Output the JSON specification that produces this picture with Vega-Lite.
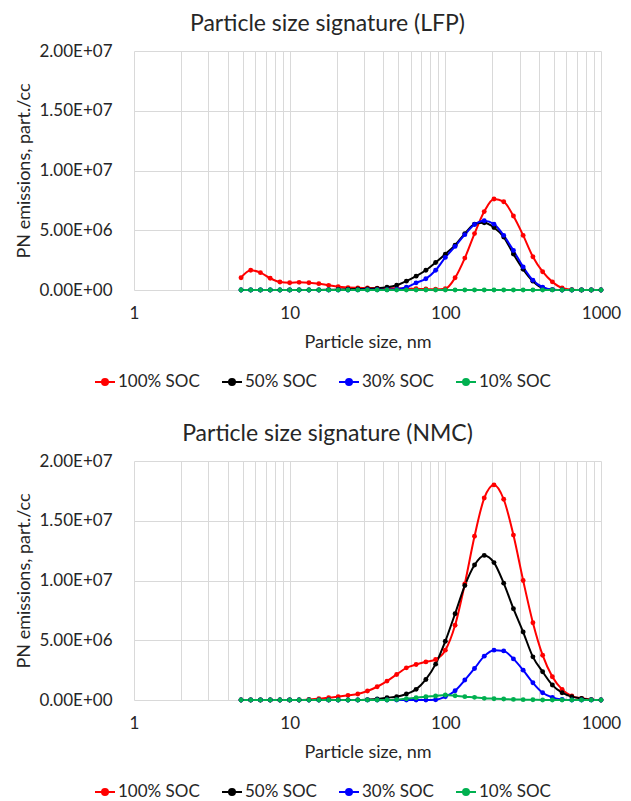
{
  "$schema": "https://vega.github.io/schema/vega-lite/v6.json",
  "background": "white",
  "padding": {"left": 15, "top": 13, "right": 5, "bottom": 0},
  "spacing": 33,
  "config": {
    "font": "Lato",
    "view": {"stroke": null},
    "axis": {
      "gridColor": "#d9d9d9",
      "gridWidth": 1,
      "domain": false,
      "ticks": false,
      "labelColor": "#262626",
      "titleColor": "#262626",
      "labelFontSize": 17,
      "titleFontSize": 18,
      "titleFontWeight": "normal"
    },
    "title": {"fontSize": 23, "fontWeight": "normal", "color": "#262626", "offset": 6, "dx": -40},
    "legend": {
      "orient": "none",
      "direction": "horizontal",
      "legendX": -40,
      "legendY": 320,
      "padding": 0,
      "symbolType": "M-1,0H1M-0.3,0A0.3,0.3,0,1,1,0.3,0A0.3,0.3,0,1,1,-0.3,0Z",
      "symbolSize": 400,
      "symbolStrokeWidth": 2,
      "symbolOpacity": 1,
      "labelFontSize": 17,
      "labelColor": "#262626",
      "labelOffset": 2,
      "columnPadding": 18
    }
  },
  "datasets": {
    "lfp": [
      {"d": 4.87, "100% SOC": 1030000, "50% SOC": 0, "30% SOC": 0, "10% SOC": 0},
      {"d": 5.62, "100% SOC": 1650000, "50% SOC": 0, "30% SOC": 0, "10% SOC": 0},
      {"d": 6.49, "100% SOC": 1450000, "50% SOC": 0, "30% SOC": 0, "10% SOC": 0},
      {"d": 7.50, "100% SOC": 980000, "50% SOC": 0, "30% SOC": 0, "10% SOC": 0},
      {"d": 8.66, "100% SOC": 670000, "50% SOC": 0, "30% SOC": 0, "10% SOC": 0},
      {"d": 10.0, "100% SOC": 610000, "50% SOC": 0, "30% SOC": 0, "10% SOC": 0},
      {"d": 11.5, "100% SOC": 640000, "50% SOC": 0, "30% SOC": 0, "10% SOC": 0},
      {"d": 13.3, "100% SOC": 610000, "50% SOC": 0, "30% SOC": 0, "10% SOC": 0},
      {"d": 15.4, "100% SOC": 530000, "50% SOC": 0, "30% SOC": 0, "10% SOC": 0},
      {"d": 17.8, "100% SOC": 390000, "50% SOC": 20000, "30% SOC": 0, "10% SOC": 0},
      {"d": 20.5, "100% SOC": 280000, "50% SOC": 40000, "30% SOC": 0, "10% SOC": 0},
      {"d": 23.7, "100% SOC": 200000, "50% SOC": 60000, "30% SOC": 0, "10% SOC": 0},
      {"d": 27.4, "100% SOC": 180000, "50% SOC": 80000, "30% SOC": 10000, "10% SOC": 0},
      {"d": 31.6, "100% SOC": 170000, "50% SOC": 100000, "30% SOC": 20000, "10% SOC": 0},
      {"d": 36.5, "100% SOC": 160000, "50% SOC": 140000, "30% SOC": 20000, "10% SOC": 0},
      {"d": 42.2, "100% SOC": 150000, "50% SOC": 230000, "30% SOC": 30000, "10% SOC": 0},
      {"d": 48.7, "100% SOC": 140000, "50% SOC": 400000, "30% SOC": 60000, "10% SOC": 0},
      {"d": 56.2, "100% SOC": 120000, "50% SOC": 740000, "30% SOC": 230000, "10% SOC": 0},
      {"d": 64.9, "100% SOC": 100000, "50% SOC": 1160000, "30% SOC": 600000, "10% SOC": 0},
      {"d": 75.0, "100% SOC": 80000, "50% SOC": 1650000, "30% SOC": 940000, "10% SOC": 0},
      {"d": 86.6, "100% SOC": 60000, "50% SOC": 2300000, "30% SOC": 1650000, "10% SOC": 0},
      {"d": 100, "100% SOC": 110000, "50% SOC": 3000000, "30% SOC": 2730000, "10% SOC": 0},
      {"d": 115.5, "100% SOC": 1020000, "50% SOC": 3750000, "30% SOC": 3650000, "10% SOC": 0},
      {"d": 133.4, "100% SOC": 2670000, "50% SOC": 4720000, "30% SOC": 4630000, "10% SOC": 0},
      {"d": 154.0, "100% SOC": 4720000, "50% SOC": 5510000, "30% SOC": 5480000, "10% SOC": 0},
      {"d": 177.8, "100% SOC": 6560000, "50% SOC": 5630000, "30% SOC": 5800000, "10% SOC": 0},
      {"d": 205.4, "100% SOC": 7610000, "50% SOC": 5230000, "30% SOC": 5510000, "10% SOC": 0},
      {"d": 237.1, "100% SOC": 7390000, "50% SOC": 4430000, "30% SOC": 4570000, "10% SOC": 0},
      {"d": 273.8, "100% SOC": 6190000, "50% SOC": 3010000, "30% SOC": 3300000, "10% SOC": 0},
      {"d": 316.2, "100% SOC": 4570000, "50% SOC": 1730000, "30% SOC": 1930000, "10% SOC": 0},
      {"d": 365.2, "100% SOC": 2780000, "50% SOC": 740000, "30% SOC": 820000, "10% SOC": 0},
      {"d": 421.7, "100% SOC": 1530000, "50% SOC": 170000, "30% SOC": 230000, "10% SOC": 0},
      {"d": 487.0, "100% SOC": 680000, "50% SOC": 30000, "30% SOC": 30000, "10% SOC": 0},
      {"d": 562.3, "100% SOC": 170000, "50% SOC": 0, "30% SOC": 0, "10% SOC": 0},
      {"d": 649.4, "100% SOC": 30000, "50% SOC": 0, "30% SOC": 0, "10% SOC": 0},
      {"d": 749.9, "100% SOC": 0, "50% SOC": 0, "30% SOC": 0, "10% SOC": 0},
      {"d": 866.0, "100% SOC": 0, "50% SOC": 0, "30% SOC": 0, "10% SOC": 0},
      {"d": 1000, "100% SOC": 0, "50% SOC": 0, "30% SOC": 0, "10% SOC": 0}
    ],
    "nmc": [
      {"d": 4.87, "100% SOC": 0, "50% SOC": 0, "30% SOC": 0, "10% SOC": 0},
      {"d": 5.62, "100% SOC": 0, "50% SOC": 0, "30% SOC": 0, "10% SOC": 0},
      {"d": 6.49, "100% SOC": 0, "50% SOC": 0, "30% SOC": 0, "10% SOC": 0},
      {"d": 7.50, "100% SOC": 0, "50% SOC": 0, "30% SOC": 0, "10% SOC": 0},
      {"d": 8.66, "100% SOC": 0, "50% SOC": 0, "30% SOC": 0, "10% SOC": 0},
      {"d": 10.0, "100% SOC": 0, "50% SOC": 0, "30% SOC": 0, "10% SOC": 0},
      {"d": 11.5, "100% SOC": 0, "50% SOC": 0, "30% SOC": 0, "10% SOC": 0},
      {"d": 13.3, "100% SOC": 40000, "50% SOC": 0, "30% SOC": 0, "10% SOC": 0},
      {"d": 15.4, "100% SOC": 100000, "50% SOC": 0, "30% SOC": 0, "10% SOC": 0},
      {"d": 17.8, "100% SOC": 190000, "50% SOC": 0, "30% SOC": 0, "10% SOC": 0},
      {"d": 20.5, "100% SOC": 280000, "50% SOC": 0, "30% SOC": 0, "10% SOC": 0},
      {"d": 23.7, "100% SOC": 390000, "50% SOC": 0, "30% SOC": 0, "10% SOC": 0},
      {"d": 27.4, "100% SOC": 500000, "50% SOC": 0, "30% SOC": 0, "10% SOC": 0},
      {"d": 31.6, "100% SOC": 750000, "50% SOC": 30000, "30% SOC": 0, "10% SOC": 0},
      {"d": 36.5, "100% SOC": 1110000, "50% SOC": 80000, "30% SOC": 0, "10% SOC": 0},
      {"d": 42.2, "100% SOC": 1580000, "50% SOC": 190000, "30% SOC": 0, "10% SOC": 0},
      {"d": 48.7, "100% SOC": 2140000, "50% SOC": 280000, "30% SOC": 0, "10% SOC": 30000},
      {"d": 56.2, "100% SOC": 2690000, "50% SOC": 500000, "30% SOC": 0, "10% SOC": 110000},
      {"d": 64.9, "100% SOC": 2970000, "50% SOC": 890000, "30% SOC": 0, "10% SOC": 190000},
      {"d": 75.0, "100% SOC": 3190000, "50% SOC": 1720000, "30% SOC": 0, "10% SOC": 280000},
      {"d": 86.6, "100% SOC": 3390000, "50% SOC": 3000000, "30% SOC": 20000, "10% SOC": 330000},
      {"d": 100, "100% SOC": 4170000, "50% SOC": 4920000, "30% SOC": 280000, "10% SOC": 420000},
      {"d": 115.5, "100% SOC": 6250000, "50% SOC": 7220000, "30% SOC": 780000, "10% SOC": 360000},
      {"d": 133.4, "100% SOC": 9720000, "50% SOC": 9580000, "30% SOC": 1670000, "10% SOC": 280000},
      {"d": 154.0, "100% SOC": 13700000, "50% SOC": 11300000, "30% SOC": 2640000, "10% SOC": 220000},
      {"d": 177.8, "100% SOC": 16900000, "50% SOC": 12100000, "30% SOC": 3670000, "10% SOC": 140000},
      {"d": 205.4, "100% SOC": 18000000, "50% SOC": 11500000, "30% SOC": 4170000, "10% SOC": 110000},
      {"d": 237.1, "100% SOC": 16800000, "50% SOC": 9780000, "30% SOC": 4110000, "10% SOC": 80000},
      {"d": 273.8, "100% SOC": 13800000, "50% SOC": 7640000, "30% SOC": 3440000, "10% SOC": 50000},
      {"d": 316.2, "100% SOC": 10000000, "50% SOC": 5690000, "30% SOC": 2500000, "10% SOC": 30000},
      {"d": 365.2, "100% SOC": 6470000, "50% SOC": 3610000, "30% SOC": 1440000, "10% SOC": 20000},
      {"d": 421.7, "100% SOC": 3750000, "50% SOC": 2360000, "30% SOC": 610000, "10% SOC": 0},
      {"d": 487.0, "100% SOC": 1940000, "50% SOC": 1250000, "30% SOC": 220000, "10% SOC": 0},
      {"d": 562.3, "100% SOC": 890000, "50% SOC": 610000, "30% SOC": 50000, "10% SOC": 0},
      {"d": 649.4, "100% SOC": 330000, "50% SOC": 280000, "30% SOC": 0, "10% SOC": 0},
      {"d": 749.9, "100% SOC": 140000, "50% SOC": 140000, "30% SOC": 0, "10% SOC": 0},
      {"d": 866.0, "100% SOC": 30000, "50% SOC": 30000, "30% SOC": 0, "10% SOC": 0},
      {"d": 1000, "100% SOC": 0, "50% SOC": 0, "30% SOC": 0, "10% SOC": 0}
    ]
  },
  "resolve": {"scale": {"color": "shared"}, "legend": {"color": "independent"}},
  "vconcat": [
    {
      "title": "Particle size signature (LFP)",
      "width": 467,
      "height": 239,
      "data": {"name": "lfp"},
      "transform": [{"fold": ["100% SOC", "50% SOC", "30% SOC", "10% SOC"], "as": ["soc", "pn"]}],
      "encoding": {
        "x": {
          "field": "d", "type": "quantitative", "title": "Particle size, nm",
          "scale": {"type": "log", "domain": [1, 1000], "nice": false},
          "axis": {
            "values": [1,2,3,4,5,6,7,8,9,10,20,30,40,50,60,70,80,90,100,200,300,400,500,600,700,800,900,1000],
            "labelExpr": "indexof([1,10,100,1000], datum.value) >= 0 ? format(datum.value, 'd') : ''",
            "labelOverlap": false, "labelFlush": false, "labelPadding": 15, "titlePadding": 12, "grid": true
          }
        },
        "y": {
          "field": "pn", "type": "quantitative", "title": "PN emissions, part./cc",
          "scale": {"domain": [0, 20000000], "nice": false},
          "axis": {
            "values": [0, 5000000, 10000000, 15000000, 20000000],
            "labelExpr": "datum.value == 0 ? '0.00E+00' : datum.value < 10000000 ? format(datum.value / 1000000, '.2f') + 'E+06' : format(datum.value / 10000000, '.2f') + 'E+07'",
            "labelPadding": 22, "titlePadding": 6, "grid": true
          }
        },
        "color": {
          "field": "soc", "type": "nominal",
          "scale": {"domain": ["100% SOC", "50% SOC", "30% SOC", "10% SOC"], "range": ["#ff0000", "#000000", "#0000ff", "#00b050"]},
          "legend": {
            "title": null,
            "encode": {"symbols": {"update": {"fill": {"scale": "color", "field": "value"}, "stroke": {"scale": "color", "field": "value"}}}}
          }
        }
      },
      "layer": [
        {"mark": {"type": "line", "strokeWidth": 2, "interpolate": "monotone"}},
        {"mark": {"type": "point", "filled": true, "size": 24, "opacity": 1}}
      ]
    },
    {
      "title": "Particle size signature (NMC)",
      "width": 467,
      "height": 239,
      "data": {"name": "nmc"},
      "transform": [{"fold": ["100% SOC", "50% SOC", "30% SOC", "10% SOC"], "as": ["soc", "pn"]}],
      "encoding": {
        "x": {
          "field": "d", "type": "quantitative", "title": "Particle size, nm",
          "scale": {"type": "log", "domain": [1, 1000], "nice": false},
          "axis": {
            "values": [1,2,3,4,5,6,7,8,9,10,20,30,40,50,60,70,80,90,100,200,300,400,500,600,700,800,900,1000],
            "labelExpr": "indexof([1,10,100,1000], datum.value) >= 0 ? format(datum.value, 'd') : ''",
            "labelOverlap": false, "labelFlush": false, "labelPadding": 15, "titlePadding": 12, "grid": true
          }
        },
        "y": {
          "field": "pn", "type": "quantitative", "title": "PN emissions, part./cc",
          "scale": {"domain": [0, 20000000], "nice": false},
          "axis": {
            "values": [0, 5000000, 10000000, 15000000, 20000000],
            "labelExpr": "datum.value == 0 ? '0.00E+00' : datum.value < 10000000 ? format(datum.value / 1000000, '.2f') + 'E+06' : format(datum.value / 10000000, '.2f') + 'E+07'",
            "labelPadding": 22, "titlePadding": 6, "grid": true
          }
        },
        "color": {
          "field": "soc", "type": "nominal",
          "scale": {"domain": ["100% SOC", "50% SOC", "30% SOC", "10% SOC"], "range": ["#ff0000", "#000000", "#0000ff", "#00b050"]},
          "legend": {
            "title": null,
            "encode": {"symbols": {"update": {"fill": {"scale": "color", "field": "value"}, "stroke": {"scale": "color", "field": "value"}}}}
          }
        }
      },
      "layer": [
        {"mark": {"type": "line", "strokeWidth": 2, "interpolate": "monotone"}},
        {"mark": {"type": "point", "filled": true, "size": 24, "opacity": 1}}
      ]
    }
  ]
}
